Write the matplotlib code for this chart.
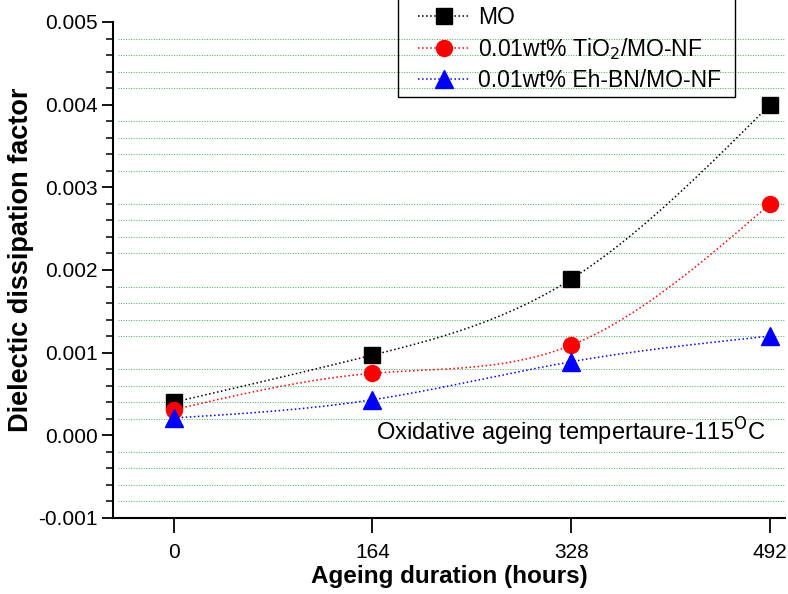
import numpy as np
import matplotlib.pyplot as plt
from matplotlib.patches import Rectangle
from matplotlib.ticker import MultipleLocator

plt.rcParams['font.family'] = ['Liberation Sans', 'DejaVu Sans']

# ageing duration (hours) and measured dissipation factor
hours = [0, 164, 328, 492]
mo = [0.00040, 0.00097, 0.00189, 0.00400]
tio2 = [0.00031, 0.00075, 0.00109, 0.00280]
ehbn = [0.00021, 0.00043, 0.00089, 0.00120]
labels = ['MO', '0.01wt% TiO$_2$/MO-NF', '0.01wt% Eh-BN/MO-NF']
colors = ['black', 'red', 'blue']
markers = ['s', 'o', '^']


def spline(x, y, n=200):
    # natural cubic spline through the points
    x = np.asarray(x, float)
    y = np.asarray(y, float)
    k = len(x)
    h = np.diff(x)
    A = np.zeros((k, k))
    b = np.zeros(k)
    A[0, 0] = A[-1, -1] = 1
    for i in range(1, k - 1):
        A[i, i - 1] = h[i - 1]
        A[i, i] = 2 * (h[i - 1] + h[i])
        A[i, i + 1] = h[i]
        b[i] = 6 * ((y[i + 1] - y[i]) / h[i] - (y[i] - y[i - 1]) / h[i - 1])
    M = np.linalg.solve(A, b)
    xs = np.linspace(x[0], x[-1], n)
    idx = np.clip(np.searchsorted(x, xs) - 1, 0, k - 2)
    x0, x1 = x[idx], x[idx + 1]
    hh = x1 - x0
    ys = (M[idx] * (x1 - xs) ** 3 / (6 * hh) + M[idx + 1] * (xs - x0) ** 3 / (6 * hh)
          + (y[idx] - M[idx] * hh ** 2 / 6) * (x1 - xs) / hh
          + (y[idx + 1] - M[idx + 1] * hh ** 2 / 6) * (xs - x0) / hh)
    return xs, ys


fig = plt.figure(figsize=(7.88, 5.94), dpi=100)
ax = fig.add_axes([0.1434, 0.128, 0.853, 0.835])

handles = []
for vals, c, m, lab in zip([mo, tio2, ehbn], colors, markers, labels):
    xs, ys = spline(hours, vals)
    ax.plot(xs, ys, ':', color=c, lw=1.1)
    ms = 13.5 if m == '^' else 11.5
    ax.plot(hours, vals, m, color=c, ms=ms, ls='none', zorder=3)
    h, = ax.plot([], [], ':', color=c, marker=m, ms=ms, lw=1.1, label=lab)
    handles.append(h)

ax.set_xlim(-50, 504.4)
ax.set_ylim(-0.001, 0.005)
ax.set_xticks(hours)
ax.yaxis.set_major_locator(MultipleLocator(0.001))
ax.yaxis.set_minor_locator(MultipleLocator(0.0002))
ax.yaxis.set_major_formatter(plt.FormatStrFormatter('%.3f'))

# green dotted grid on the minor steps only
for v in np.arange(-0.0008, 0.005, 0.0002):
    if abs(round(v / 0.001) * 0.001 - v) > 1e-9:
        ax.axhline(v, xmin=0.008, color='#3cb44b', ls=(0, (1, 1.6)), lw=0.7, zorder=0)

for s in ['top', 'right']:
    ax.spines[s].set_visible(False)
ax.spines['left'].set_linewidth(1.5)
ax.spines['bottom'].set_linewidth(1.5)

ax.tick_params(axis='y', which='major', direction='out', length=8, width=1.3,
               labelsize=15, pad=3)
ax.tick_params(axis='y', which='minor', direction='out', length=5, width=1.1)
ax.tick_params(axis='x', direction='out', length=11, width=1.3, labelsize=15, pad=7)

ax.set_ylabel('Dielectic dissipation factor', fontsize=19.5, fontweight='bold')
ax.yaxis.set_label_coords(-0.117, 0.52)
ax.set_xlabel('Ageing duration (hours)', fontsize=17.5, fontweight='bold', labelpad=2)

ax.text(0.392, 0.155, 'Oxidative ageing tempertaure-115$^{\\mathrm{O}}$C',
        transform=ax.transAxes, fontsize=17)

# legend entries without frame, box drawn separately (runs off the top edge)
W, H = 788, 594
fig.legend(handles=handles, loc='upper left', bbox_to_anchor=(418 / W, 1 - 6 / H),
           fontsize=16.5, frameon=False, handlelength=2.27, handletextpad=0.35,
           borderpad=0, labelspacing=0.3, borderaxespad=0)
fig.patches.append(Rectangle((398 / W, 1 - 97 / H), (735 - 398) / W, 0.3,
                             transform=fig.transFigure, fill=False,
                             edgecolor='black', linewidth=1.0))

fig.savefig('out.png', dpi=100)
